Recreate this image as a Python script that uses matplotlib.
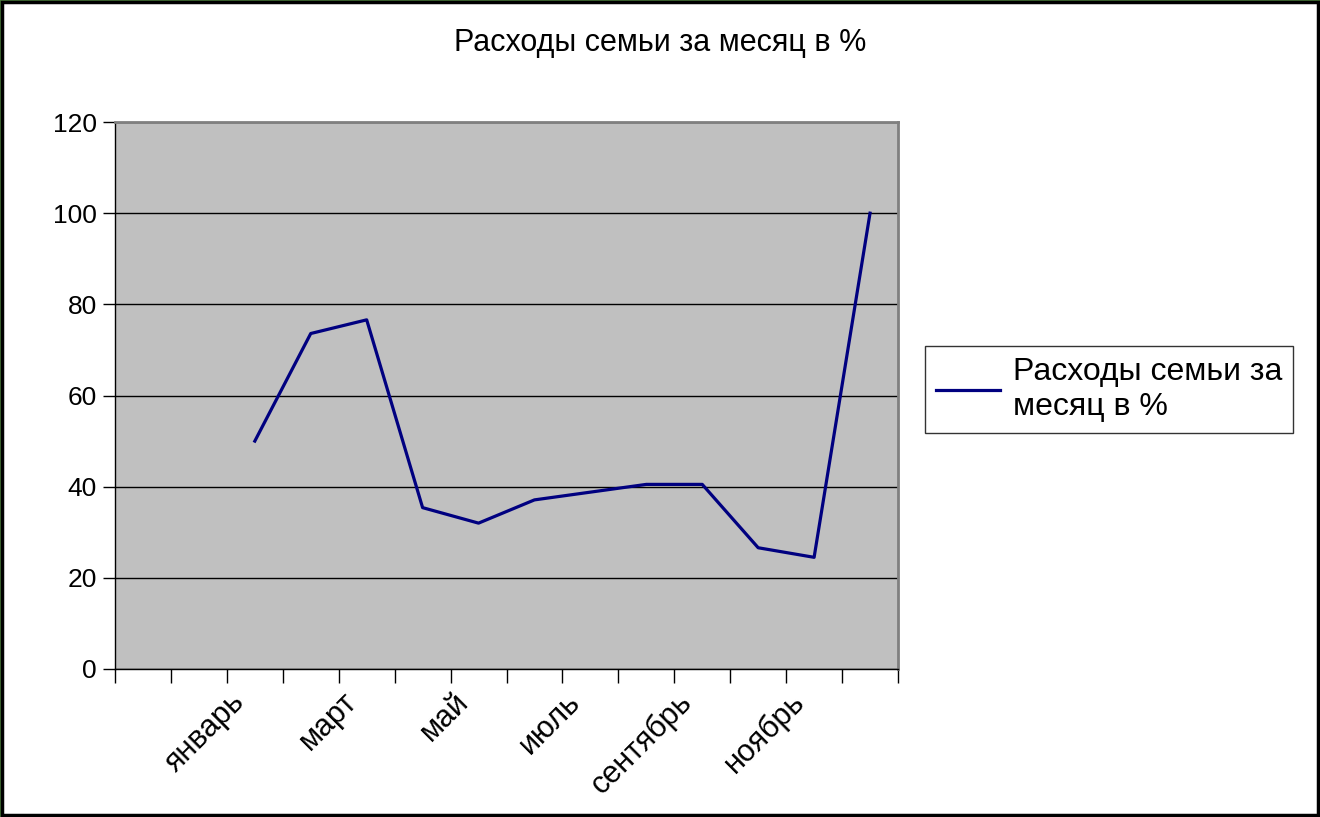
#!/usr/bin/env python3
# coding: utf-8

import numpy as np
import matplotlib
matplotlib.use("Agg")
import matplotlib.pyplot as plt
from matplotlib.patches import Rectangle
from matplotlib.ticker import FixedLocator, NullFormatter

# categories (two empty slots before January, as in the source sheet)
categories = ["", "", "январь", "февраль", "март", "апрель", "май", "июнь",
              "июль", "август", "сентябрь", "октябрь", "ноябрь", "декабрь"]
shown_labels = ["", "январь", "март", "май", "июль", "сентябрь", "ноябрь"]
months = categories[2:]
expenses = [50, 73.6, 76.6, 35.4, 32.0, 37.1, 38.8, 40.5, 40.5, 26.6, 24.5, 100]
y_ticks = [0, 20, 40, 60, 80, 100, 120]

title = "Расходы семьи за месяц в %"
series_label = "Расходы семьи за\nмесяц в %"

plt.rcParams['font.family'] = ['Liberation Sans', 'DejaVu Sans']

fig = plt.figure(figsize=(13.2, 8.17), dpi=100)
ax = fig.add_axes([115/1320, 1-669/817, (898-115)/1320, (669-122)/817])
ax.set_facecolor("#c0c0c0")

x = np.arange(len(categories))
idx = [categories.index(m) for m in months]
ax.plot(x[idx], expenses, "-", color="#000080", lw=2.3, label=series_label,
        zorder=3)

ax.set_xlim(-0.5, len(categories) - 0.5)
ax.set_ylim(0, 120)

# y axis
ax.set_yticks(y_ticks)
ax.set_yticklabels([str(v) for v in y_ticks], fontsize=19)
ax.tick_params(axis='y', length=9, width=1, pad=4, color="black")
ax.yaxis.grid(True, color="black", lw=1)
ax.set_axisbelow(True)

# x axis: ticks between categories, labels every second category
ax.xaxis.set_minor_locator(FixedLocator(np.arange(-0.5, len(categories), 1)))
ax.xaxis.set_minor_formatter(NullFormatter())
ax.set_xticks(x[::2] - 0.45)
ax.set_xticklabels(shown_labels, fontsize=22, rotation=45, ha="right",
                   va="top", rotation_mode="anchor")
ax.tick_params(axis='x', which='major', length=0, pad=13)
ax.tick_params(axis='x', which='minor', length=10, width=1, color="black")

for side in ['top', 'right']:
    ax.spines[side].set_color("#808080")
    ax.spines[side].set_linewidth(2)
for side in ['left', 'bottom']:
    ax.spines[side].set_color("black")
    ax.spines[side].set_linewidth(1)

fig.text(0.5, 1-43/817, title, ha="center", va="center", fontsize=22)

leg = fig.legend(loc="upper left", bbox_to_anchor=(925/1320, 1-346/817),
                 fontsize=23, frameon=True, fancybox=False, handlelength=2.0,
                 borderpad=0.35, handletextpad=0.4, labelspacing=0.2,
                 borderaxespad=0)
leg.get_frame().set_edgecolor("black")
leg.get_frame().set_linewidth(1)

# outer frame of the picture
fig.patches.append(Rectangle((0, 0), 1, 1, transform=fig.transFigure,
                             fill=False, edgecolor="#4a7a3a", lw=2))
fig.patches.append(Rectangle((2/1320, 2/817), 1-4/1320, 1-4/817,
                             transform=fig.transFigure, fill=False,
                             edgecolor="black", lw=2.5))

fig.savefig("out.png", dpi=100)
